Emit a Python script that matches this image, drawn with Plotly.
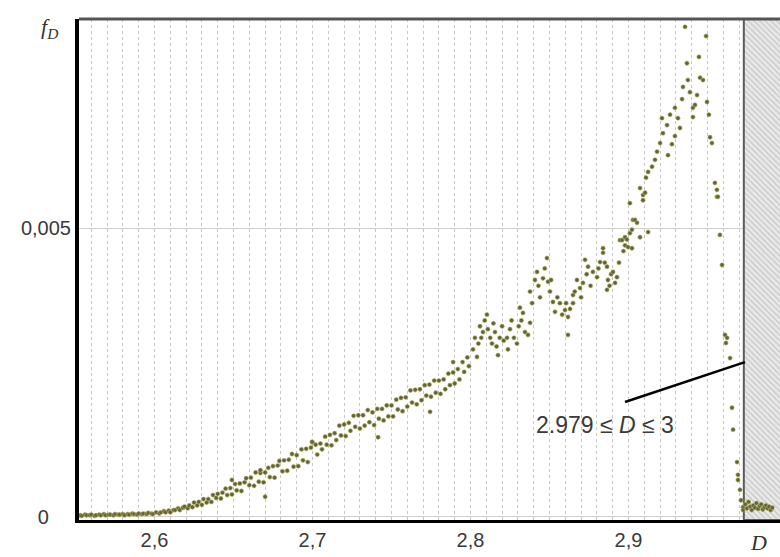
import plotly.graph_objects as go

# ---------------- data ----------------
# left tail, almost zero
d_tail = [2.553, 2.554, 2.556, 2.557, 2.559, 2.560, 2.562, 2.563, 2.565, 2.566,
          2.568, 2.569, 2.571, 2.572, 2.574, 2.575, 2.577, 2.578, 2.580, 2.581,
          2.583, 2.584, 2.586, 2.587, 2.589, 2.590, 2.592, 2.593, 2.595, 2.596,
          2.598, 2.599]
f_tail = [0.00003, 0.00002, 0.00004, 0.00003, 0.00003, 0.00004, 0.00002, 0.00003, 0.00004, 0.00003,
          0.00005, 0.00003, 0.00004, 0.00004, 0.00003, 0.00005, 0.00004, 0.00004, 0.00005, 0.00003,
          0.00005, 0.00004, 0.00006, 0.00005, 0.00004, 0.00006, 0.00005, 0.00006, 0.00005, 0.00007,
          0.00006, 0.00005]

# rise 2.6 .. 2.7
d_rise = [2.601, 2.603, 2.604, 2.606, 2.607, 2.609, 2.610, 2.612, 2.613, 2.615,
          2.616, 2.618, 2.619, 2.621, 2.622, 2.624, 2.625, 2.627, 2.628, 2.630,
          2.631, 2.633, 2.634, 2.636, 2.637, 2.639, 2.640, 2.642, 2.643, 2.645,
          2.646, 2.648, 2.649, 2.651, 2.652, 2.654, 2.655, 2.657, 2.658, 2.660,
          2.661, 2.663, 2.664, 2.666, 2.667, 2.669, 2.670, 2.672, 2.673, 2.675,
          2.676, 2.678, 2.679, 2.681, 2.682, 2.684, 2.685, 2.687, 2.688, 2.690,
          2.691, 2.693, 2.694, 2.696, 2.697, 2.699, 2.700]
f_rise = [0.00008, 0.00006, 0.00008, 0.00010, 0.00008, 0.00011, 0.00008, 0.00012, 0.00012, 0.00015,
          0.00012, 0.00016, 0.00018, 0.00015, 0.00020, 0.00017, 0.00025, 0.00020, 0.00026, 0.00021,
          0.00031, 0.00025, 0.00031, 0.00026, 0.00038, 0.00033, 0.00040, 0.00032, 0.00042, 0.00049,
          0.00038, 0.00050, 0.00039, 0.00057, 0.00046, 0.00058, 0.00045, 0.00060, 0.00067, 0.00055,
          0.00068, 0.00054, 0.00077, 0.00061, 0.00076, 0.00060, 0.00077, 0.00085, 0.00069, 0.00088,
          0.00068, 0.00089, 0.00097, 0.00079, 0.00098, 0.00080, 0.00099, 0.00109, 0.00087, 0.00107,
          0.00088, 0.00117, 0.00098, 0.00118, 0.00095, 0.00120, 0.00129]

# 2.7 .. 2.8
d_mid = [2.702, 2.703, 2.705, 2.706, 2.708, 2.709, 2.711, 2.712, 2.714, 2.715,
         2.717, 2.718, 2.720, 2.721, 2.723, 2.724, 2.726, 2.727, 2.729, 2.730,
         2.732, 2.733, 2.735, 2.736, 2.738, 2.739, 2.741, 2.742, 2.744, 2.745,
         2.747, 2.748, 2.750, 2.751, 2.753, 2.754, 2.756, 2.757, 2.759, 2.760,
         2.762, 2.763, 2.765, 2.766, 2.768, 2.769, 2.771, 2.772, 2.774, 2.775,
         2.777, 2.778, 2.780, 2.781, 2.783, 2.784, 2.786, 2.787, 2.789, 2.790,
         2.792, 2.793, 2.795, 2.796, 2.798, 2.799]
f_mid = [0.00125, 0.00108, 0.00127, 0.00117, 0.00139, 0.00125, 0.00142, 0.00124, 0.00145, 0.00133,
         0.00158, 0.00141, 0.00160, 0.00140, 0.00163, 0.00149, 0.00175, 0.00156, 0.00176, 0.00153,
         0.00176, 0.00158, 0.00185, 0.00164, 0.00181, 0.00159, 0.00187, 0.00170, 0.00187, 0.00167,
         0.00193, 0.00174, 0.00193, 0.00174, 0.00203, 0.00186, 0.00206, 0.00183, 0.00207, 0.00191,
         0.00219, 0.00198, 0.00220, 0.00195, 0.00221, 0.00202, 0.00228, 0.00210, 0.00229, 0.00208,
         0.00236, 0.00215, 0.00236, 0.00213, 0.00238, 0.00221, 0.00248, 0.00228, 0.00250, 0.00231,
         0.00256, 0.00238, 0.00268, 0.00251, 0.00276, 0.00261]

# scattered outliers below 2.8
d_out = [2.649, 2.667, 2.670, 2.6997, 2.7415, 2.7744, 2.789]
f_out = [0.00064, 0.00081, 0.00035, 0.00130, 0.00138, 0.00182, 0.00268]

# bumpy part 2.8 .. 2.903
d_bump = [2.8016, 2.8028, 2.8041, 2.8050, 2.8060, 2.8068, 2.8079, 2.8090, 2.8104, 2.8110,
          2.8125, 2.8136, 2.8145, 2.8155, 2.8165, 2.8174, 2.8185, 2.8200, 2.8210, 2.8231,
          2.8237, 2.8250, 2.8260, 2.8275, 2.8294, 2.8305, 2.8313, 2.8322, 2.8332, 2.8345,
          2.8364, 2.8377, 2.8377, 2.8390, 2.8408, 2.8421, 2.8430, 2.8440, 2.8459, 2.8470,
          2.8484, 2.8491, 2.8503, 2.8510, 2.8522, 2.8535, 2.8550, 2.8566, 2.8580, 2.8598,
          2.8605, 2.8617, 2.8617, 2.8630, 2.8649, 2.8649, 2.8660, 2.8674, 2.8693, 2.8700,
          2.8712, 2.8725, 2.8735, 2.8744, 2.8760, 2.8775, 2.8801, 2.8810, 2.8820, 2.8839,
          2.8839, 2.8850, 2.8864, 2.8864, 2.8870, 2.8880, 2.8890, 2.8902, 2.8915, 2.8927,
          2.8940, 2.8946, 2.8959, 2.8968, 2.8978, 2.8978, 2.8990, 2.8997, 2.9009, 2.9009,
          2.9022, 2.9028]
f_bump = [0.00290, 0.00310, 0.00277, 0.00300, 0.00330, 0.00310, 0.00320, 0.00340, 0.00350, 0.00325,
          0.00310, 0.00300, 0.00335, 0.00320, 0.00295, 0.00280, 0.00310, 0.00330, 0.00305, 0.00310,
          0.00290, 0.00325, 0.00340, 0.00310, 0.00300, 0.00330, 0.00362, 0.00340, 0.00353, 0.00320,
          0.00315, 0.00336, 0.00390, 0.00370, 0.00410, 0.00424, 0.00400, 0.00380, 0.00413, 0.00430,
          0.00448, 0.00407, 0.00390, 0.00410, 0.00372, 0.00355, 0.00380, 0.00370, 0.00350, 0.00358,
          0.00370, 0.00346, 0.00315, 0.00360, 0.00370, 0.00384, 0.00390, 0.00410, 0.00396, 0.00380,
          0.00405, 0.00445, 0.00420, 0.00433, 0.00400, 0.00424, 0.00415, 0.00430, 0.00441, 0.00457,
          0.00465, 0.00440, 0.00433, 0.00393, 0.00410, 0.00400, 0.00420, 0.00424, 0.00405, 0.00415,
          0.00440, 0.00479, 0.00479, 0.00460, 0.00470, 0.00484, 0.00480, 0.00467, 0.00491, 0.00543,
          0.00465, 0.00514]

# steep peak and collapse 2.903 .. 2.973
d_peak = [2.9041, 2.9054, 2.9022, 2.9073, 2.9073, 2.9092, 2.9092, 2.9105, 2.9111, 2.9124,
          2.9124, 2.9149, 2.9168, 2.9181, 2.9200, 2.9212, 2.9218, 2.9244, 2.9250, 2.9263,
          2.9275, 2.9294, 2.9294, 2.9313, 2.9326, 2.9339, 2.9345, 2.9358, 2.9370, 2.9376,
          2.9389, 2.9408, 2.9408, 2.9421, 2.9434, 2.9446, 2.9453, 2.9472, 2.9491, 2.9497,
          2.9509, 2.9516, 2.9528, 2.9547, 2.9560, 2.9560, 2.9566, 2.9579, 2.9592, 2.9611,
          2.9617, 2.9624, 2.9643, 2.9655, 2.9662, 2.9687, 2.9693, 2.9693, 2.9706, 2.9712,
          2.9725, 2.9725]
f_peak = [0.00514, 0.00509, 0.00497, 0.00484, 0.00569, 0.00557, 0.00548, 0.00561, 0.00587, 0.00597,
          0.00493, 0.00606, 0.00618, 0.00632, 0.00647, 0.00690, 0.00664, 0.00678, 0.00626, 0.00696,
          0.00645, 0.00708, 0.00659, 0.00690, 0.00673, 0.00723, 0.00744, 0.00848, 0.00785, 0.00756,
          0.00735, 0.00708, 0.00692, 0.00713, 0.00730, 0.00796, 0.00760, 0.00756, 0.00832, 0.00718,
          0.00696, 0.00657, 0.00647, 0.00578, 0.00566, 0.00554, 0.00554, 0.00488, 0.00436, 0.00315,
          0.00301, 0.00310, 0.00275, 0.00189, 0.00151, 0.00095, 0.00073, 0.00064, 0.00047, 0.00029,
          0.00017, 0.00012]

# points inside the hatched zone
d_inside = [2.974, 2.975, 2.976, 2.977, 2.978, 2.979, 2.980, 2.981, 2.982, 2.983,
            2.984, 2.985, 2.986, 2.987, 2.988, 2.989, 2.990, 2.991]
f_inside = [0.00022, 0.00015, 0.00026, 0.00018, 0.00012, 0.00020, 0.00016, 0.00024, 0.00014, 0.00019,
            0.00022, 0.00013, 0.00017, 0.00020, 0.00015, 0.00018, 0.00012, 0.00016]

# hatched zone bounds and axis settings
zone_lo, zone_hi = 2.973, 3.0
x_range = [2.5522, 2.9959]
y_range = [-0.000052, 0.008616]
x_tickvals = [2.6, 2.7, 2.8, 2.9]
x_ticktext = ["2,6", "2,7", "2,8", "2,9"]
y_tickvals = [0, 0.005]
y_ticktext = ["0\u2007\u2007", "0,005"]
label_text = "2.979 \u2264 <i>D</i> \u2264 3"
label_pos = (2.8851, 0.00159)
pointer = (2.8978, 0.00199, 2.9737, 0.00268)

D = d_tail + d_rise + d_mid + d_out + d_bump + d_peak + d_inside
F = f_tail + f_rise + f_mid + f_out + f_bump + f_peak + f_inside

fig = go.Figure()

# hatched zone
fig.add_trace(go.Scatter(
    x=[zone_lo, zone_hi, zone_hi, zone_lo, zone_lo],
    y=[y_range[0], y_range[0], y_range[1], y_range[1], y_range[0]],
    mode="lines", fill="toself",
    fillcolor="#e6e6e6",
    fillpattern=dict(shape="\\", fgcolor="#a2a2a2", bgcolor="#e9e9e9", size=4, solidity=0.3),
    line=dict(color="#5a5a5a", width=2),
    hoverinfo="skip",
))

fig.add_trace(go.Scatter(
    x=D, y=F, mode="markers",
    marker=dict(size=4.3, color="#626240", line=dict(color="rgba(185,185,90,0.8)", width=0.7)),
))

fig.update_layout(
    width=780, height=557,
    margin=dict(l=79, r=0, t=19, b=37),
    paper_bgcolor="white", plot_bgcolor="white",
    showlegend=False,
    font=dict(family="Liberation Sans", size=20, color="#3a3a3a"),
)

fig.update_xaxes(
    range=x_range, tickmode="array", tickvals=x_tickvals, ticktext=x_ticktext,
    showgrid=True, gridcolor="#c6c6c6", gridwidth=1, griddash="dot",
    minor=dict(dtick=0.01, tick0=2.5, showgrid=True, gridcolor="#c6c6c6", gridwidth=1, griddash="dot"),
    showline=True, linecolor="black", linewidth=3, zeroline=False, ticks="",
)
fig.update_yaxes(
    range=y_range, tickmode="array", tickvals=y_tickvals, ticktext=y_ticktext,
    showgrid=True, gridcolor="#d0d0d0", gridwidth=1,
    showline=True, linecolor="black", linewidth=4, zeroline=False, ticks="",
)

# top frame line
fig.add_shape(type="line", xref="paper", yref="paper", x0=0, x1=1, y0=1, y1=1,
              line=dict(color="#555555", width=3))
# pointer line
fig.add_shape(type="line", xref="x", yref="y",
              x0=pointer[0], y0=pointer[1], x1=pointer[2], y1=pointer[3],
              line=dict(color="black", width=2.5))

fig.add_annotation(x=label_pos[0], y=label_pos[1], xref="x", yref="y", text=label_text,
                   showarrow=False, font=dict(size=23, color="#3a3a3a", family="Liberation Sans"))
fig.add_annotation(x=-0.057, y=1.013, xref="paper", yref="paper",
                   text="<i>f</i><sub><i>D</i></sub>", showarrow=False,
                   font=dict(size=22, color="#333333", family="Liberation Serif"))
fig.add_annotation(x=2.9826, y=-0.045, xref="x", yref="paper", text="<i>D</i>",
                   showarrow=False, yanchor="middle",
                   font=dict(size=22, color="#333333", family="Liberation Serif"))

fig.write_html("out.html")
